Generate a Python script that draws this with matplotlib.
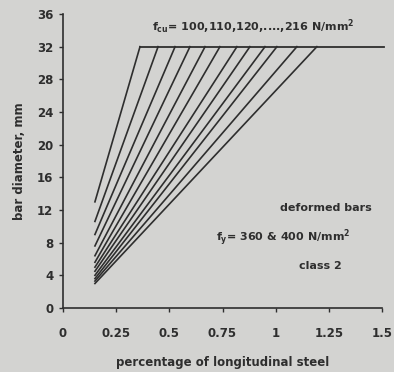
import matplotlib
matplotlib.use("Agg")
import matplotlib.pyplot as plt

# Bar diameter vs. percentage of longitudinal steel, one line per f_cu value
start_pct = 0.15
start_diam = [13.0, 10.6, 9.0, 7.6, 6.4, 5.6, 5.0, 4.5, 4.0, 3.6, 3.3, 3.0]
max_diam = 32.0
corner_pct = [0.362, 0.447, 0.527, 0.597, 0.668, 0.738, 0.818, 0.879, 0.950, 1.006, 1.100, 1.194]
cap_end_pct = 1.51

x_ticks = [0, 0.25, 0.5, 0.75, 1, 1.25, 1.5]
x_tick_labels = ["0", "0.25", "0.5", "0.75", "1", "1.25", "1.5"]
y_ticks = list(range(0, 37, 4))

bg = "#d3d3d1"
ink = "#2e2e2e"

plt.rcParams["font.family"] = ["DejaVu Sans"]
plt.rcParams["font.weight"] = "bold"
plt.rcParams["mathtext.fontset"] = "custom"
plt.rcParams["mathtext.rm"] = "DejaVu Sans:bold"
plt.rcParams["mathtext.it"] = "DejaVu Sans:bold"
plt.rcParams["mathtext.bf"] = "DejaVu Sans:bold"

fig = plt.figure(figsize=(3.94, 3.72), dpi=100, facecolor=bg)
ax = fig.add_axes([0.160, 0.172, 0.8095, 0.7904])
ax.set_facecolor(bg)

for d0, xc in zip(start_diam, corner_pct):
    ax.plot([start_pct, xc], [d0, max_diam], color=ink, lw=1.2)

ax.plot([corner_pct[0], cap_end_pct], [max_diam, max_diam], color=ink, lw=1.3,
        clip_on=False)

ax.set_xlim(0, 1.5)
ax.set_ylim(0, 36)
ax.set_xticks(x_ticks)
ax.set_xticklabels(x_tick_labels)
ax.set_yticks(y_ticks)
for s in ["top", "right"]:
    ax.spines[s].set_visible(False)
for s in ["left", "bottom"]:
    ax.spines[s].set_color(ink)
    ax.spines[s].set_linewidth(1.2)
ax.tick_params(axis="both", colors=ink, labelsize=8.5, length=3, width=1.0,
               direction="out")
ax.tick_params(axis="x", pad=11)
ax.tick_params(axis="y", pad=4)
for lab in ax.get_xticklabels() + ax.get_yticklabels():
    lab.set_fontweight("bold")

ax.set_xlabel("percentage of longitudinal steel", fontsize=8.5, fontweight="bold",
              color=ink, labelpad=11)
ax.set_ylabel("bar diameter, mm", fontsize=8.5, fontweight="bold", color=ink,
              labelpad=8)

ax.text(0.893, 34.4, r"f$_{\mathrm{cu}}$= 100,110,120,....,216 N/mm$^{2}$",
        ha="center", va="center", fontsize=8, color=ink)
ax.text(1.236, 12.2, "deformed bars", ha="center", va="center", fontsize=8,
        color=ink)
ax.text(1.035, 8.6, r"f$_{\mathrm{y}}$= 360 & 400 N/mm$^{2}$", ha="center",
        va="center", fontsize=8, color=ink)
ax.text(1.21, 5.1, "class 2", ha="center", va="center", fontsize=8, color=ink)

fig.savefig("out.png", dpi=100, facecolor=bg)
